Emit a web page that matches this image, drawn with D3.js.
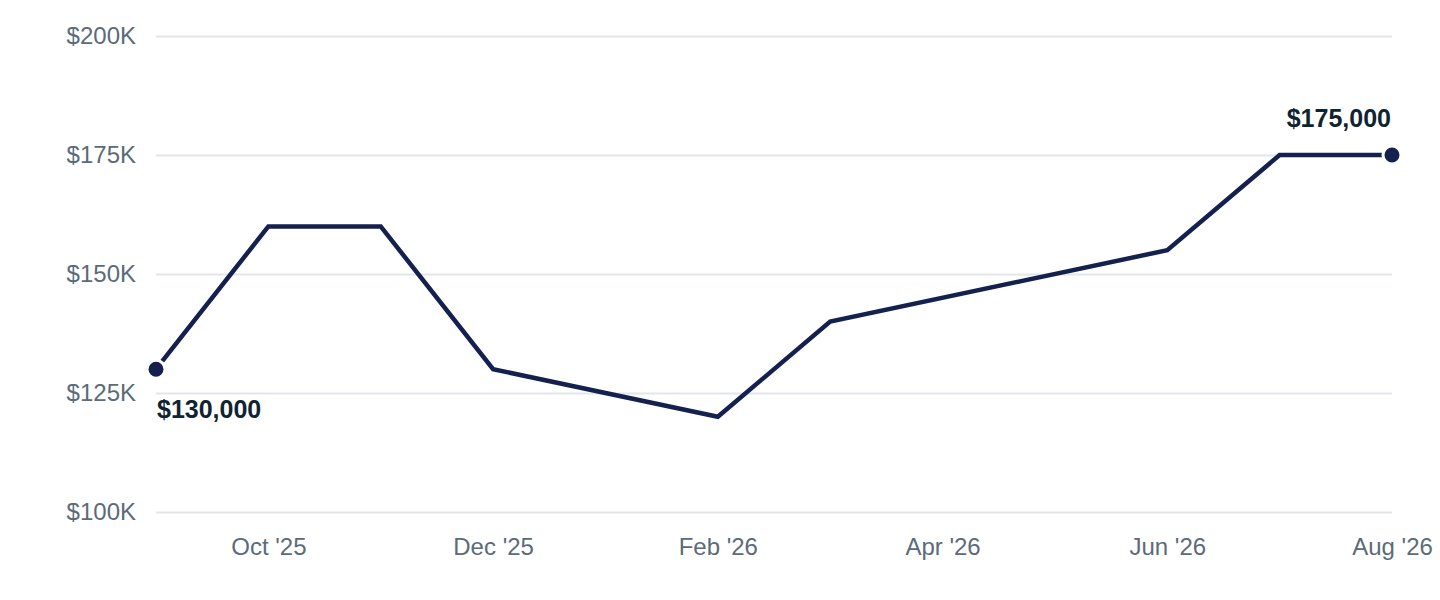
<!DOCTYPE html>
<html>
<head>
<meta charset="utf-8">
<script src="https://cdn.jsdelivr.net/npm/d3@7"></script>
<style>
  body { margin: 0; background: #fff; }
  svg { display: block; font-family: "Liberation Sans", Arial, Helvetica, sans-serif; }
</style>
</head>
<body>
<script>
// months on the x axis (one slot per month)
const months = ["Sep '25", "Oct '25", "Nov '25", "Dec '25", "Jan '26", "Feb '26",
                "Mar '26", "Apr '26", "May '26", "Jun '26", "Jul '26", "Aug '26"];
// months that have a value, and the values
const pointMonths = ["Sep '25", "Oct '25", "Nov '25", "Dec '25", "Feb '26",
                     "Mar '26", "Jun '26", "Jul '26", "Aug '26"];
const values = [130000, 160000, 160000, 130000, 120000, 140000, 155000, 175000, 175000];
// tick labels
const xTickLabels = ["Oct '25", "Dec '25", "Feb '26", "Apr '26", "Jun '26", "Aug '26"];
const yTicks = [100000, 125000, 150000, 175000, 200000];

const width = 1440, height = 600;
const margin = {top: 36, right: 48, bottom: 88, left: 156};

const svg = d3.select("body").append("svg")
    .attr("width", width)
    .attr("height", height);

const x = d3.scalePoint()
    .domain(months)
    .range([margin.left, width - margin.right])
    .padding(0);

const y = d3.scaleLinear()
    .domain([100000, 200000])
    .range([height - margin.bottom, margin.top]);

const fmtTick = v => "$" + (v / 1000) + "K";
const fmtVal = d3.format("$,");

// gridlines + y labels
const yAxis = svg.append("g")
    .attr("transform", `translate(${margin.left},0)`)
    .call(d3.axisLeft(y).tickValues(yTicks).tickFormat(fmtTick)
        .tickSize(-(width - margin.left - margin.right)).tickPadding(20));
yAxis.select(".domain").remove();
yAxis.selectAll(".tick line").attr("stroke", "#e2e6eb").attr("stroke-width", 2);
yAxis.selectAll(".tick text")
    .attr("fill", "#5b6b79")
    .style("font-size", "24px");

// x labels
const xAxis = svg.append("g")
    .attr("transform", `translate(0,${height - margin.bottom})`)
    .call(d3.axisBottom(x).tickValues(xTickLabels).tickSize(0).tickPadding(26));
xAxis.select(".domain").remove();
xAxis.selectAll(".tick text")
    .attr("fill", "#5b6b79")
    .style("font-size", "24px");

const data = pointMonths.map((m, i) => ({month: m, value: values[i]}));

const line = d3.line()
    .x(d => x(d.month))
    .y(d => y(d.value));

svg.append("path")
    .datum(data)
    .attr("fill", "none")
    .attr("stroke", "#14214f")
    .attr("stroke-width", 4.5)
    .attr("d", line);

// end dots
const ends = [data[0], data[data.length - 1]];
svg.selectAll(".end-dot")
    .data(ends)
    .enter().append("circle")
    .attr("class", "end-dot")
    .attr("cx", d => x(d.month))
    .attr("cy", d => y(d.value))
    .attr("r", 9)
    .attr("fill", "#14214f")
    .attr("stroke", "#fff")
    .attr("stroke-width", 3);

// value labels
svg.append("text")
    .attr("x", x(data[0].month) + 1)
    .attr("y", y(data[0].value) + 49)
    .attr("text-anchor", "start")
    .attr("fill", "#0f2431")
    .style("font-size", "25px")
    .style("font-weight", "bold")
    .text(fmtVal(data[0].value));

svg.append("text")
    .attr("x", x(data[data.length - 1].month) - 1)
    .attr("y", y(data[data.length - 1].value) - 28)
    .attr("text-anchor", "end")
    .attr("fill", "#0f2431")
    .style("font-size", "25px")
    .style("font-weight", "bold")
    .text(fmtVal(data[data.length - 1].value));
</script>
</body>
</html>
